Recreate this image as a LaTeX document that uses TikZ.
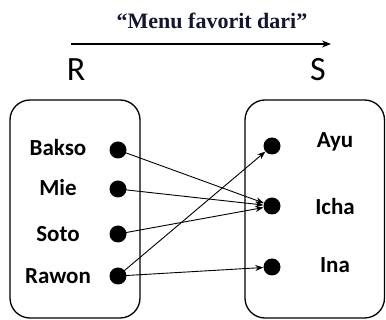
\documentclass[tikz,border=0pt]{standalone}
\usepackage{fontspec}
\setmainfont{Liberation Serif}
\newfontfamily\carl{Carlito}
\usetikzlibrary{arrows.meta}
\definecolor{titlecol}{rgb}{0.08,0.08,0.2}
\begin{document}
\begin{tikzpicture}[x=1pt,y=-1pt,
  setbox/.style={draw,line width=1.3pt,rounded corners=20pt},
  dotnode/.style={circle,fill=black,inner sep=0pt,minimum width=16pt,minimum height=17pt},
  lab/.style={font=\carl\bfseries\fontsize{23}{23}\selectfont,inner sep=0pt},
  setlab/.style={font=\carl\fontsize{34}{34}\selectfont,inner sep=0pt},
  conn/.style={line width=0.9pt,-{Stealth[length=8pt,width=6pt]}},
]
\useasboundingbox (0,0) rectangle (386,320);
\node[font=\bfseries\fontsize{22}{22}\selectfont,text=titlecol,inner sep=0pt] (title) at (212,21) {“Menu favorit dari”};
\coordinate (a0) at (71,44);
\coordinate (a1) at (331,44);
\draw[line width=1.4pt,-{Stealth[length=9pt,width=7pt]}] (a0) -- (a1);
\node[setlab] (R) at (76,70) {R};
\node[setlab] (S) at (318,70) {S};
\draw[setbox] (10,100) rectangle (140,318);
\draw[setbox] (245,100) rectangle (384.5,318);
\node[lab] (bakso) at (58,148) {Bakso};
\node[lab] (mie) at (58,188) {Mie};
\node[lab] (soto) at (58,234) {Soto};
\node[lab] (rawon) at (58,276) {Rawon};
\node[dotnode] (d1) at (118,150) {};
\node[dotnode] (d2) at (118,189) {};
\node[dotnode] (d3) at (118,234) {};
\node[dotnode] (d4) at (118,276) {};
\node[dotnode] (e1) at (272,146) {};
\node[dotnode] (e2) at (272,206) {};
\node[dotnode] (e3) at (272,267) {};
\node[lab] (ayu) at (335,142) {Ayu};
\node[lab] (icha) at (335,207) {Icha};
\node[lab] (ina) at (335,265) {Ina};
\draw[conn] (d1.center) -- (e2);
\draw[conn] (d2.center) -- (e2);
\draw[conn] (d3.center) -- (e2);
\draw[conn] (d4.center) -- (e1);
\draw[conn] (d4.center) -- (e3);
\end{tikzpicture}
\end{document}
